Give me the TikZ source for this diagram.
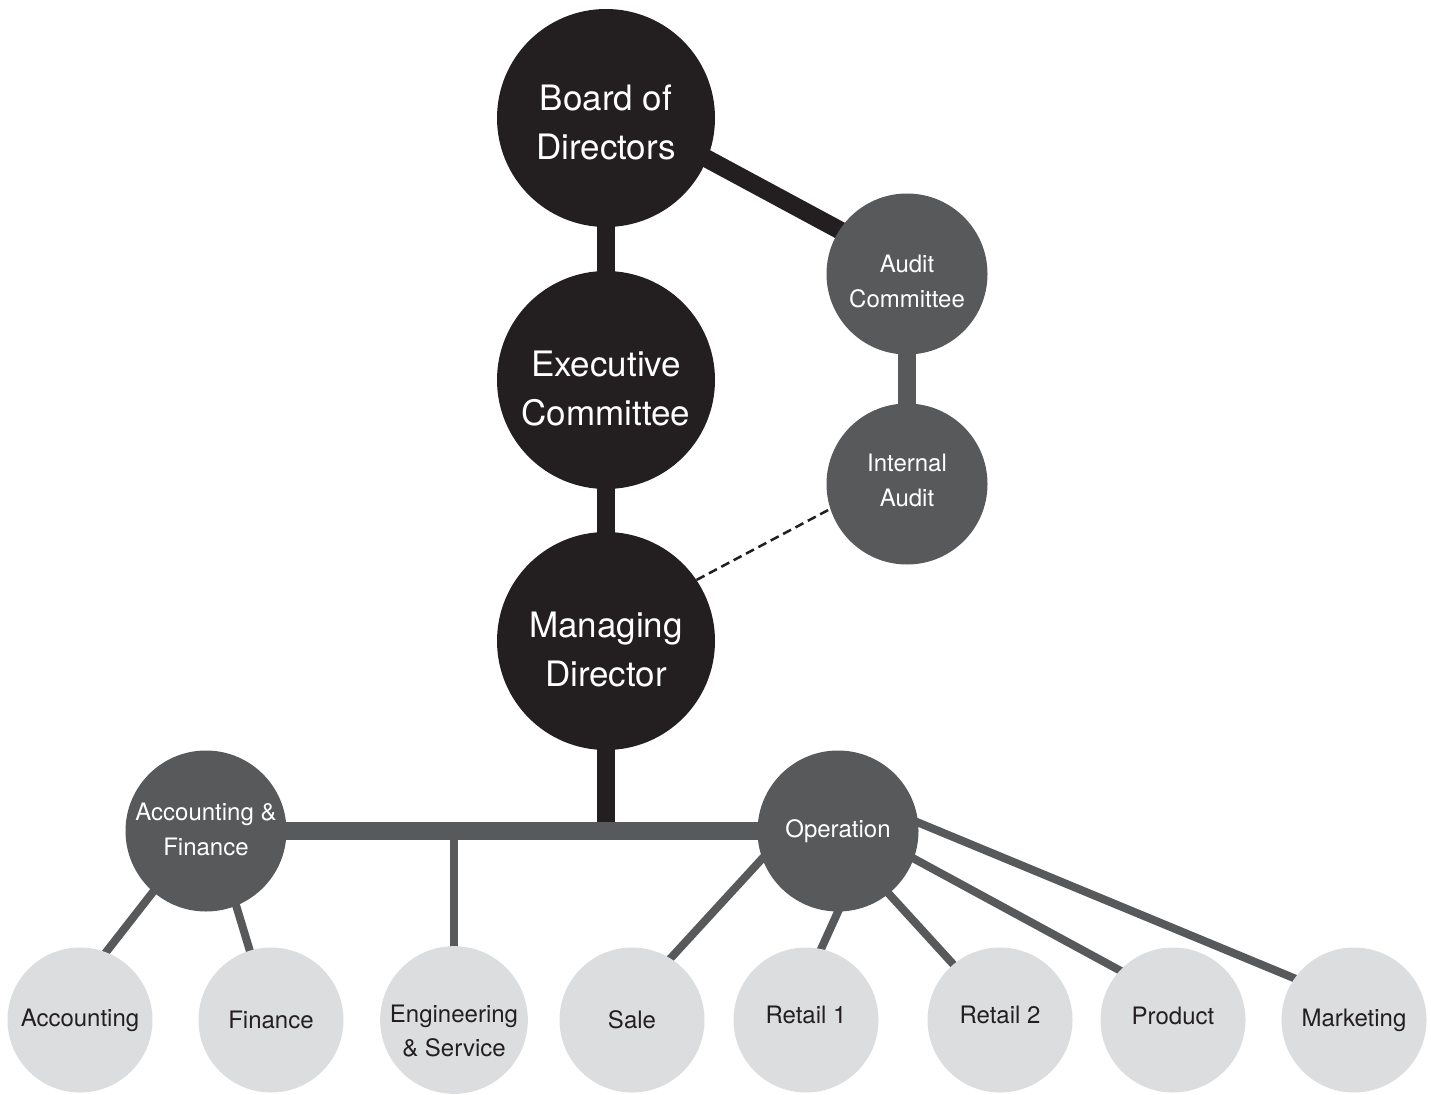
\documentclass[tikz,border=0pt]{standalone}
\usepackage{fontspec}
\setmainfont{TeX Gyre Heros}
\usetikzlibrary{backgrounds}
\definecolor{boardblack}{HTML}{231F20}
\definecolor{unitgray}{HTML}{58595B}
\definecolor{deptgray}{HTML}{DCDDDE}
\newcommand{\dropline}[1]{\rule{0pt}{#1}}

\begin{document}
\begin{tikzpicture}[x=1pt,y=-1pt,
  bigunit/.style={circle, fill=boardblack, text=white, minimum size=218pt, inner sep=0pt, align=center, font=\fontsize{35}{49}\selectfont},
  midunit/.style={circle, fill=unitgray, text=white, minimum size=161pt, inner sep=0pt, align=center, font=\fontsize{24}{35}\selectfont},
  dept/.style={circle, fill=deptgray, text=boardblack, minimum size=145pt, inner sep=0pt, align=center, font=\fontsize{24}{34}\selectfont},
  textup/.style={execute at end node={\rule[-#1]{0pt}{0pt}}},
  heavyline/.style={line width=18pt, shorten <=-12pt, shorten >=-12pt},
  lightline/.style={line width=8pt, unitgray, shorten <=-8pt, shorten >=-8pt},
  dottedlink/.style={line width=2.5pt, boardblack, dash pattern=on 9pt off 5pt}]
\useasboundingbox (0,0) rectangle (1431,1094);
% top of the chart
\node[bigunit] (bod) at (606,118) {\dropline{34pt}Board of\\Directors};
\node[bigunit] (ec) at (606,380) {\dropline{42pt}Executive\\Committee};
\node[bigunit] (md) at (606,641) {\dropline{42pt}Managing\\Director};
\node[midunit] (ac) at (907,274) {\dropline{32pt}Audit\\Committee};
\node[midunit, textup=8pt] (ia) at (907,484) {Internal\\Audit};
% divisions
\node[midunit, textup=4pt] (af) at (206,831) {Accounting \&\\Finance};
\node[midunit] (op) at (838,831) {Operation};
% departments
\node[dept] (acc) at (80,1020) {Accounting};
\node[dept] (fin) at (271,1020) {Finance};
\node[dept] (eng) at (454,1020) {\dropline{39pt}Engineering\\\& Service};
\node[dept] (sale) at (632,1020) {Sale};
\node[dept, textup=11pt] (rt1) at (806,1020) {Retail 1};
\node[dept, textup=11pt] (rt2) at (1000,1020) {Retail 2};
\node[dept, textup=8pt] (prod) at (1173,1020) {Product};
\node[dept] (mkt) at (1354,1020) {Marketing};
\coordinate (mdjoin) at (md |- af);
\coordinate (engjoin) at (eng |- af);
\begin{scope}[on background layer]
\draw[heavyline, boardblack] (bod) -- (ec);
\draw[heavyline, boardblack] (ec) -- (md);
\draw[heavyline, boardblack] (bod.-22) -- (ac.147);
\draw[heavyline, unitgray] (ac) -- (ia);
\draw[heavyline, boardblack, shorten >=0pt] (md) -- (mdjoin);
\draw[lightline, shorten >=0pt] (eng) -- (engjoin);
\draw[heavyline, unitgray] (af) -- (op);
\draw[lightline] (af.229) -- (acc.69);
\draw[lightline] (af.-68) -- (fin.107);
\draw[lightline] (op.200) -- (sale.58);
\draw[lightline] (op.-90) -- (rt1.78);
\draw[lightline] (op.-51) -- (rt2.130);
\draw[lightline] (op.-20) -- (prod.137);
\draw[lightline] (op.6) -- (mkt.145);
\end{scope}
\draw[dottedlink] (md.34) -- (ia.198);
\end{tikzpicture}
\end{document}
